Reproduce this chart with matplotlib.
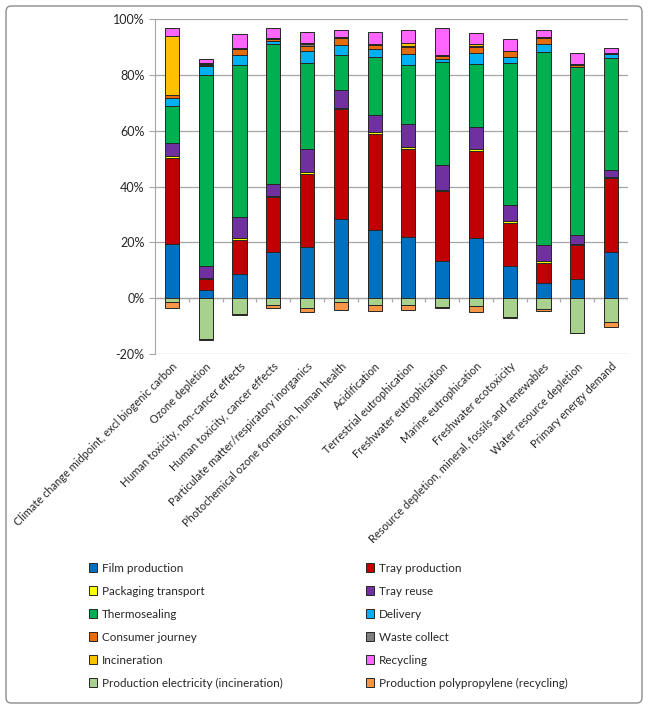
import numpy as np
import matplotlib
matplotlib.use("Agg")
import matplotlib.pyplot as plt
from matplotlib.patches import FancyBboxPatch
from matplotlib.ticker import FuncFormatter

plt.rcParams['font.family'] = ['Lato', 'DejaVu Sans']

categories = [
    "Climate change midpoint, excl biogenic carbon",
    "Ozone depletion",
    "Human toxicity, non-cancer effects",
    "Human toxicity, cancer effects",
    "Particulate matter/respiratory inorganics",
    "Photochemical ozone formation, human health",
    "Acidification",
    "Terrestrial eutrophication",
    "Freshwater eutrophication",
    "Marine eutrophication",
    "Freshwater ecotoxicity",
    "Resource depletion, mineral, fossils and renewables",
    "Water resource depletion",
    "Primary energy demand",
]

film = [19.3, 2.9, 8.5, 16.4, 18.2, 28.3, 24.5, 21.8, 13.4, 21.5, 11.5, 5.3, 6.9, 16.4]
tray = [30.8, 4.1, 12.4, 19.8, 26.3, 39.3, 34.4, 31.7, 25.0, 31.3, 15.6, 7.3, 12.2, 26.7]
packaging_transport = [0.7, 0.4, 0.7, 0.3, 0.7, 0.6, 0.6, 0.7, 0.2, 0.7, 0.4, 0.6, 0.2, 0.2]
tray_reuse = [4.8, 4.1, 7.4, 4.4, 8.3, 6.3, 6.2, 8.3, 9.1, 7.9, 6.0, 5.7, 3.4, 2.5]
thermosealing = [13.4, 68.6, 54.7, 50.0, 30.9, 12.5, 20.8, 21.2, 36.9, 22.6, 50.9, 69.3, 60.0, 40.3]
delivery = [2.6, 2.9, 3.3, 1.2, 4.1, 3.6, 2.7, 3.9, 1.2, 4.0, 2.1, 3.0, 0.2, 1.2]
consumer_journey = [1.1, 0.7, 2.4, 0.9, 1.9, 2.6, 1.4, 2.3, 1.0, 2.1, 1.9, 2.0, 0.6, 0.5]
waste_collect = [0.1, 0.3, 0.1, 0.1, 0.7, 0.2, 0.2, 0.5, 0.1, 0.3, 0.2, 0.2, 0.2, 0.1]
incineration = [21.1, 0.3, 0.1, 0.2, 0.2, 0.1, 0.2, 1.0, 0.1, 0.7, 0.1, 0.1, 0.1, 0.1]
recycling = [3.0, 1.4, 5.0, 3.6, 4.1, 2.6, 4.4, 4.5, 9.8, 3.9, 4.3, 2.6, 4.1, 1.7]
prod_electricity = [-1.3, -14.7, -5.8, -2.6, -3.5, -1.3, -2.5, -2.6, -3.3, -2.9, -6.8, -4.0, -12.3, -8.5]
prod_polypropylene = [-2.4, -0.2, -0.1, -1.0, -1.4, -3.0, -2.2, -1.8, -0.1, -2.2, -0.4, -0.6, -0.1, -2.0]

positive_series = [
    ("Film production", film, "#0070C0"),
    ("Tray production", tray, "#C00000"),
    ("Packaging transport", packaging_transport, "#FFFF00"),
    ("Tray reuse", tray_reuse, "#7030A0"),
    ("Thermosealing", thermosealing, "#00B050"),
    ("Delivery", delivery, "#00B0F0"),
    ("Consumer journey", consumer_journey, "#E46C0A"),
    ("Waste collect", waste_collect, "#7F7F7F"),
    ("Incineration", incineration, "#FFC000"),
    ("Recycling", recycling, "#FF66FF"),
]
negative_series = [
    ("Production electricity (incineration)", prod_electricity, "#A9D18E"),
    ("Production polypropylene (recycling)", prod_polypropylene, "#F79646"),
]

fig = plt.figure(figsize=(6.51, 7.07), dpi=100)
ax = fig.add_axes([155 / 651, 1 - 354 / 707, (628 - 155) / 651, (354 - 19) / 707])

x = np.arange(len(categories))
w = 0.42
handles = []
bottom = np.zeros(len(categories))
for name, vals, col in positive_series:
    v = np.array(vals)
    h = ax.bar(x, v, w, bottom=bottom, color=col, edgecolor="#262626", linewidth=0.7,
               label=name, zorder=3)
    handles.append(h)
    bottom = bottom + v
bottom = np.zeros(len(categories))
for name, vals, col in negative_series:
    v = np.array(vals)
    h = ax.bar(x, v, w, bottom=bottom, color=col, edgecolor="#262626", linewidth=0.7,
               label=name, zorder=3)
    handles.append(h)
    bottom = bottom + v

ax.set_xlim(-0.5, len(categories) - 0.5)
ax.set_ylim(-20, 100)
ax.set_yticks(np.arange(-20, 101, 20))
ax.yaxis.set_major_formatter(FuncFormatter(lambda v, p: f"{v:.0f}%"))
ax.grid(axis="y", color="#A6A6A6", linewidth=0.9, zorder=0)
for s in ["top", "right", "bottom"]:
    ax.spines[s].set_visible(False)
ax.spines["left"].set_color("#A6A6A6")
ax.tick_params(axis="y", colors="#A6A6A6", length=4, labelcolor="#262626", labelsize=9)

# zero axis line with category boundary ticks
ax.axhline(0, color="#A6A6A6", linewidth=0.9, zorder=2)
ax.vlines(np.arange(len(categories)) + 0.5, -1.4, 0, color="#A6A6A6", linewidth=0.9, zorder=2)

ax.set_xticks(x)
ax.set_xticklabels(categories, rotation=45, ha="right", va="top", rotation_mode="anchor",
                   fontsize=7.9, color="#262626")
ax.tick_params(axis="x", length=0, pad=5)

order = handles[0::2] + handles[1::2]
labels = [h.get_label() for h in order]
leg = fig.legend(order, labels, ncol=2, loc="upper left",
                 bbox_to_anchor=(84 / 651, 1 - 558 / 707), frameon=False,
                 fontsize=8.4, handlelength=0.75, handleheight=0.75, handletextpad=0.4,
                 labelspacing=1.03, columnspacing=7.1, borderaxespad=0)
for t in leg.get_texts():
    t.set_color("#262626")

border = FancyBboxPatch((6 / 651, 4 / 707), (642 - 6) / 651, (703 - 6) / 707,
                        boxstyle="round,pad=0,rounding_size=0.008",
                        transform=fig.transFigure, facecolor="none",
                        edgecolor="#8C8C8C", linewidth=1.0)
fig.patches.append(border)

fig.savefig("out.png", dpi=100, facecolor="white")
